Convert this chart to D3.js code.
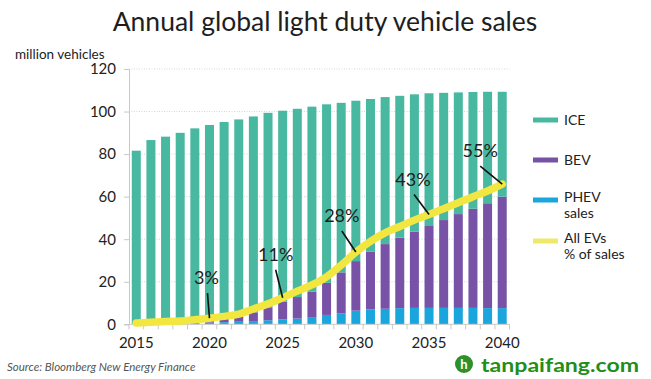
<!DOCTYPE html>
<html>
<head>
<meta charset="utf-8">
<script src="https://cdn.jsdelivr.net/npm/d3@7"></script>
<style>
  html, body { margin: 0; padding: 0; background: #ffffff; }
  svg { display: block; }
  text { font-family: Lato, "Open Sans", sans-serif; }
</style>
</head>
<body>
<svg id="chart" width="651" height="379"></svg>
<script>
// ---- data ----
const years = d3.range(2015, 2041);
const ICE  = [81.2, 86.0, 87.3, 88.8, 90.5, 91.5, 92.2, 92.5, 92.1, 91.4, 89.8, 88.5, 87.0, 83.9, 79.7, 75.4, 71.8, 69.1, 66.7, 64.6, 62.4, 59.8, 57.2, 54.9, 52.4, 49.3];
const BEV  = [0.2, 0.3, 0.5, 0.7, 1.0, 1.4, 1.9, 2.6, 4.1, 6.1, 8.3, 10.1, 12.2, 15.1, 19.2, 23.3, 27.1, 30.4, 33.1, 35.8, 38.5, 41.3, 44.1, 46.6, 49.3, 52.4];
const PHEV = [0.2, 0.3, 0.4, 0.5, 0.6, 0.8, 1.0, 1.2, 1.5, 1.9, 2.3, 2.7, 3.1, 4.4, 5.2, 6.4, 7.0, 7.3, 7.6, 7.7, 7.7, 7.7, 7.7, 7.7, 7.6, 7.6];
const evShare = [0.5, 0.8, 1.1, 1.3, 1.8, 2.4, 3.1, 4.0, 6.0, 8.0, 10.4, 13.0, 15.4, 18.6, 23.2, 28.3, 32.5, 35.8, 38.3, 40.8, 43.0, 45.3, 47.6, 50.0, 52.2, 54.9];
const yTicks = [0, 20, 40, 60, 80, 100, 120];
const xTickYears = [2015, 2020, 2025, 2030, 2035, 2040];
const annoYears  = [2020, 2025, 2030, 2035, 2040];
const annoLabels = ["3%", "11%", "28%", "43%", "55%"];
const seriesNames = ["PHEV", "BEV", "ICE"];
const legendLabels = [["ICE"], ["BEV"], ["PHEV", "sales"], ["All EVs", "% of sales"]];

// ---- style / layout ----
const colors = { ICE: "#48b8a1", BEV: "#7852a6", PHEV: "#1ba5dd", line: "#f2e640" };
const legendColors = [colors.ICE, colors.BEV, colors.PHEV, "#efe96a"];
const legendY = [120, 160, 200, 241];
// label offsets relative to the annotated point: [textDx, textDy, leaderStartDx, leaderStartDy]
const annoOffsets = [[-3, -34, -2, -25], [-7, -37, -7, -28], [-14, -30, -14, -21], [-16, -29, -15, -20], [-22, -27, -22, -18]];

const svg = d3.select("#chart");
const plot = { left: 129, right: 509.5, top: 69, bottom: 324.3 };

const x = d3.scaleBand().domain(years).range([plot.left, plot.right]).paddingInner(0.385).paddingOuter(0.19);
const y = d3.scaleLinear().domain([0, 120]).range([plot.bottom, plot.top]);
const yPct = d3.scaleLinear().domain([0, 100]).range([plot.bottom, plot.top]);

// title
svg.append("text").attr("x", 325).attr("y", 31).attr("text-anchor", "middle")
  .attr("font-size", 26.5).attr("fill", "#1e1e1e").text("Annual global light duty vehicle sales");

// y unit label
svg.append("text").attr("x", 15).attr("y", 59).attr("font-size", 13.5).attr("fill", "#222")
  .text("million vehicles");

// gridlines
svg.append("g").selectAll("line").data(yTicks.filter(d => d > 0)).join("line")
  .attr("x1", plot.left).attr("x2", plot.right)
  .attr("y1", d => y(d)).attr("y2", d => y(d))
  .attr("stroke", "#d6d6d6").attr("stroke-width", 1).attr("stroke-dasharray", "1,1.5");

// stacked bars
const table = years.map((yr, i) => ({ year: yr, PHEV: PHEV[i], BEV: BEV[i], ICE: ICE[i] }));
const stack = d3.stack().keys(seriesNames)(table);
svg.append("g").selectAll("g").data(stack).join("g")
  .attr("fill", s => colors[s.key])
  .selectAll("rect").data(s => s).join("rect")
  .attr("x", d => x(d.data.year))
  .attr("width", x.bandwidth())
  .attr("y", d => y(d[1]))
  .attr("height", d => y(d[0]) - y(d[1]));

// y axis
const yAxis = svg.append("g").attr("transform", `translate(${plot.left},0)`)
  .call(d3.axisLeft(y).tickValues(yTicks).tickSize(5).tickPadding(8));
yAxis.select(".domain").attr("stroke", "#c8c8c8");
yAxis.selectAll(".tick line").attr("stroke", "#c8c8c8");
yAxis.selectAll(".tick text").attr("font-size", 15).attr("fill", "#222")
  .attr("font-family", "Lato, sans-serif");

// x axis (ticks at band edges)
const xg = svg.append("g").attr("transform", `translate(0,${plot.bottom})`);
xg.append("line").attr("x1", plot.left).attr("x2", plot.right).attr("y1", 0).attr("y2", 0).attr("stroke", "#c8c8c8");
const edges = years.map(yr => x(yr) - x.step() * x.paddingInner() / 2).concat([plot.right]);
xg.selectAll("line.tk").data(edges).join("line").attr("class", "tk")
  .attr("x1", d => d).attr("x2", d => d).attr("y1", 0).attr("y2", 5).attr("stroke", "#c8c8c8");
xg.selectAll("text").data(xTickYears).join("text")
  .attr("x", d => x(d) + x.bandwidth() / 2).attr("y", 24).attr("text-anchor", "middle")
  .attr("font-size", 15).attr("fill", "#222").text(d => d);

// EV share line
const line = d3.line()
  .x((d, i) => x(years[i]) + x.bandwidth() / 2)
  .y(d => yPct(d))
  .curve(d3.curveMonotoneX);
svg.append("path").datum(evShare).attr("d", line)
  .attr("fill", "none").attr("stroke", colors.line).attr("stroke-width", 7.5)
  .attr("stroke-linecap", "round").attr("stroke-linejoin", "round");

// annotations
annoYears.forEach((yr, k) => {
  const i = years.indexOf(yr);
  const px = x(yr) + x.bandwidth() / 2;
  const py = yPct(evShare[i]);
  const o = annoOffsets[k];
  svg.append("line").attr("x1", px + o[2]).attr("y1", py + o[3]).attr("x2", px).attr("y2", py)
    .attr("stroke", "#111").attr("stroke-width", 1.6);
  svg.append("text").attr("x", px + o[0]).attr("y", py + o[1]).attr("text-anchor", "middle")
    .attr("font-size", 18).attr("fill", "#1e1e1e").text(annoLabels[k]);
});

// legend
const lg = svg.append("g");
legendLabels.forEach((lines, k) => {
  lg.append("rect").attr("x", 533).attr("y", legendY[k] - 2.5).attr("width", 25).attr("height", 5)
    .attr("fill", legendColors[k]);
  lines.forEach((t, j) => {
    lg.append("text").attr("x", 564).attr("y", legendY[k] + 5 - (lines.length > 1 ? 3 : 0) + j * 16)
      .attr("font-size", 14).attr("fill", "#222").text(t);
  });
});

// source
svg.append("text").attr("x", 7).attr("y", 371).attr("font-size", 11.5).attr("font-style", "italic")
  .attr("fill", "#555").text("Source: Bloomberg New Energy Finance");

// watermark
svg.append("circle").attr("cx", 464).attr("cy", 364).attr("r", 9).attr("fill", "#2f8f2a");
svg.append("text").attr("x", 464).attr("y", 369).attr("text-anchor", "middle").attr("font-size", 13)
  .attr("font-weight", "bold").attr("font-family", "Liberation Sans, Arial, sans-serif")
  .attr("fill", "#ffffff").text("h");
svg.append("text").attr("x", 481).attr("y", 372).attr("font-size", 19).attr("font-weight", "bold")
  .attr("font-family", "Liberation Sans, Arial, sans-serif").attr("fill", "#1f8f1a")
  .attr("textLength", 158).attr("lengthAdjust", "spacingAndGlyphs").text("tanpaifang.com");
</script>
</body>
</html>
